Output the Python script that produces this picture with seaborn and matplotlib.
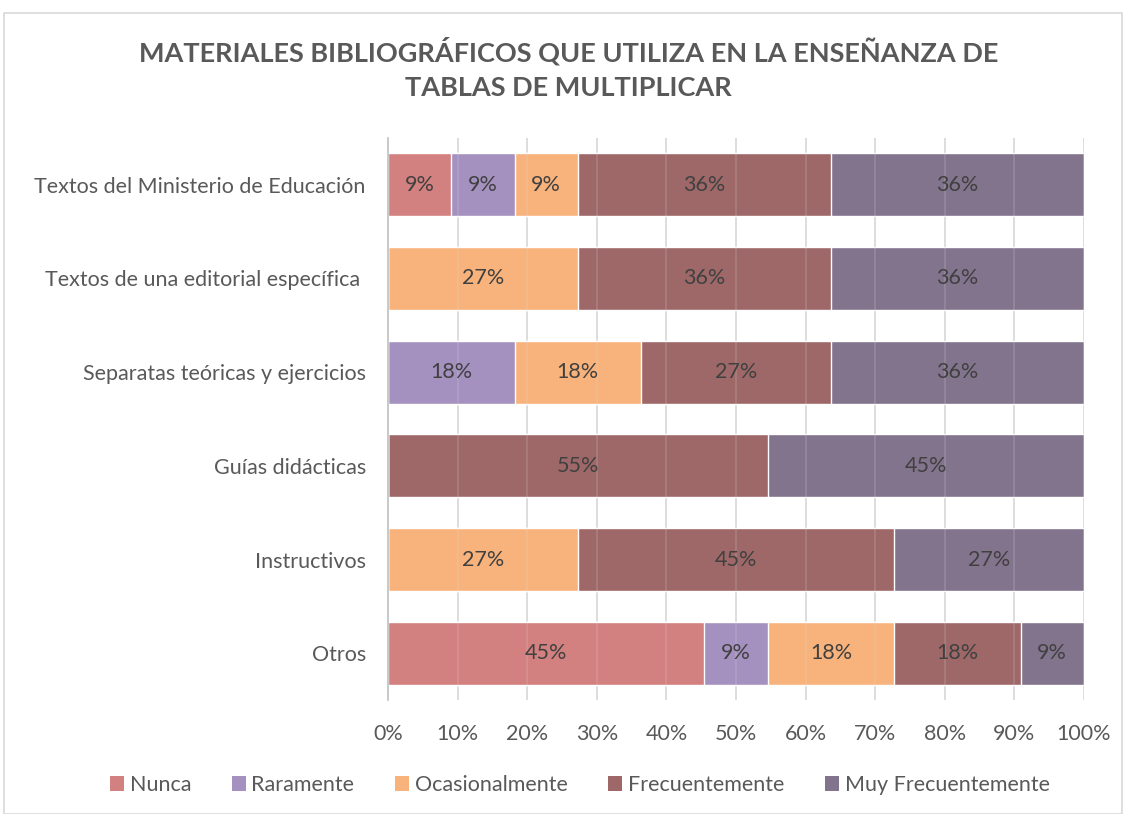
import pandas as pd
import numpy as np
import matplotlib.pyplot as plt
import seaborn as sns
from matplotlib.patches import Patch, Rectangle

sns.set_theme(style='white')
plt.rcParams['font.family'] = ['Lato', 'DejaVu Sans']

categories = ['Textos del Ministerio de Educación',
              'Textos de una editorial específica ',
              'Separatas teóricas y ejercicios',
              'Guías didácticas',
              'Instructivos',
              'Otros']
levels = ['Nunca', 'Raramente', 'Ocasionalmente', 'Frecuentemente', 'Muy Frecuentemente']
nunca = [9.09, 0, 0, 0, 0, 45.45]
raramente = [9.09, 0, 18.18, 0, 0, 9.09]
ocasionalmente = [9.09, 27.27, 18.18, 0, 27.27, 18.18]
frecuentemente = [36.36, 36.36, 27.27, 54.55, 45.45, 18.18]
muy_frecuentemente = [36.36, 36.36, 36.36, 45.45, 27.27, 9.09]
colors = ['#D38080', '#A591C0', '#F8B37C', '#9E6868', '#83748E']

df = pd.DataFrame({'cat': categories, 'Nunca': nunca, 'Raramente': raramente,
                   'Ocasionalmente': ocasionalmente, 'Frecuentemente': frecuentemente,
                   'Muy Frecuentemente': muy_frecuentemente})
cum = df[levels].cumsum(axis=1)

fig = plt.figure(figsize=(11.26, 8.14), dpi=100)
ax = fig.add_axes([388 / 1126, 1 - 700 / 814, (1084 - 388) / 1126, (700 - 138) / 814])

# stacked bars: draw cumulative totals from the last level back to the first
for lvl, col in reversed(list(zip(levels, colors))):
    sns.barplot(x=cum[lvl], y=df['cat'], orient='h', color=col, width=0.67,
                saturation=1, ax=ax, zorder=2)

# segment labels
for i, row in df.iterrows():
    left = 0
    for lvl in levels:
        v = row[lvl]
        if v > 0:
            ax.text(left + v / 2, i, f'{v:.0f}%', ha='center', va='center',
                    fontsize=15.5, color='#404040', zorder=4)
        left += v

ax.set_xlim(0, 100)
ax.set_ylim(5.5, -0.5)
ax.set_xticks(np.arange(0, 101, 10))
ax.set_xticklabels([f'{t}%' for t in range(0, 101, 10)])
ax.set_xlabel('')
ax.set_ylabel('')
for x in np.arange(10, 101, 10):
    ax.axvline(x, color='#D9D9D9', lw=1.2, zorder=3, alpha=0.2)
    ax.axvline(x, color='#D9D9D9', lw=1.2, zorder=1)
for s in ['top', 'right', 'bottom']:
    ax.spines[s].set_visible(False)
ax.spines['left'].set_color('#BFBFBF')
ax.spines['left'].set_linewidth(1.2)
ax.spines['left'].set_zorder(5)
ax.tick_params(axis='x', labelsize=15.5, colors='#595959', length=0, pad=17)
ax.tick_params(axis='y', labelsize=15.5, colors='#595959', length=0, pad=16)

fig.text(0.505, 1 - 51 / 814, 'MATERIALES BIBLIOGRÁFICOS QUE UTILIZA EN LA ENSEÑANZA DE',
         ha='center', va='center', fontsize=19.5, fontweight='bold', color='#595959')
fig.text(0.505, 1 - 88 / 814, 'TABLAS DE MULTIPLICAR',
         ha='center', va='center', fontsize=19.5, fontweight='bold', color='#595959')

handles = [Patch(facecolor=c, edgecolor='none') for c in colors]
fig.legend(handles, levels, loc='center', bbox_to_anchor=(0.515, 1 - 785 / 814), ncol=5,
           frameon=False, fontsize=15.5, handlelength=0.65, handleheight=0.65,
           handletextpad=0.25, columnspacing=1.9, labelcolor='#595959')

fig.patches.append(Rectangle((4 / 1126, 0), 1 - 8 / 1126, 1 - 13 / 814,
                             transform=fig.transFigure, fill=False,
                             edgecolor='#D9D9D9', lw=1.2))

fig.savefig('out.png', dpi=100)
